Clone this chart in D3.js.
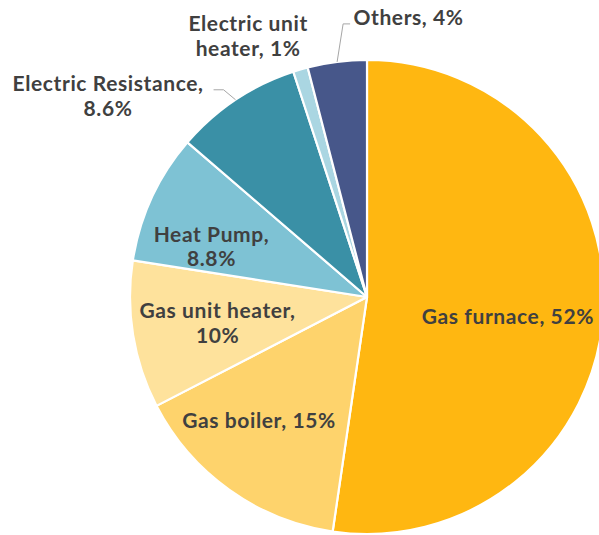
<!DOCTYPE html>
<html>
<head>
<meta charset="utf-8">
<style>
  body { margin: 0; background: #fff; }
  text { font-family: Lato, "Open Sans", sans-serif; font-weight: bold; fill: #404040; }
</style>
</head>
<body>
<svg width="599" height="535"></svg>
<script src="https://d3js.org/d3.v7.min.js"></script>
<script>

	// Data, clockwise from 12 o'clock.
	var categories = ["Gas furnace", "Gas boiler", "Gas unit heater", "Heat Pump",
		"Electric Resistance", "Electric unit heater", "Others"];
	var values = [52, 15, 10, 8.8, 8.6, 1, 4];
	var valueLabels = ["52%", "15%", "10%", "8.8%", "8.6%", "1%", "4%"];
	var colors = ["#FFB711", "#FED36C", "#FEE29C", "#7EC2D4", "#3A90A6", "#AAD6E2", "#47578A"];

	// Label layout: text lines, polar spot (angle offset from slice middle, radius fraction).
	var labelLines = [
		["Gas furnace, 52%"],
		["Gas boiler, 15%"],
		["Gas unit heater,", "10%"],
		["Heat Pump,", "8.8%"],
		["Electric Resistance,", "8.6%"],
		["Electric unit", "heater, 1%"],
		["Others, 4%"]
	];
	var labelAngle = [3.7, 5.7, -0.6, -6.8, -18.5, -8.2, 15.7];
	var labelRadius = [0.6, 0.692, 0.64, 0.69, 1.383, 1.21, 1.192];

	var svg = d3.select("svg"),
		cx = 367,
		cy = 297,
		r = 237;

	var g = svg.append("g").attr("transform", "translate(" + cx + "," + cy + ")");

	var pie = d3.pie().sort(null).value(function(d) { return d; });
	var arcs = pie(values);

	var arc = d3.arc().innerRadius(0).outerRadius(r);

	g.selectAll("path.slice")
		.data(arcs)
		.enter()
		.append("path")
		.attr("class", "slice")
		.attr("d", arc)
		.style("fill", function(d, i) { return colors[i]; })
		.style("stroke", "#fff")
		.style("stroke-width", 2.2)
		.style("stroke-linejoin", "round");

	function polar(angleDeg, rad) {
		var a = angleDeg * Math.PI / 180;
		return [rad * Math.sin(a), -rad * Math.cos(a)];
	}
	function midDeg(d) { return (d.startAngle + d.endAngle) / 2 * 180 / Math.PI; }

	var lineH = 24.5;
	arcs.forEach(function(d, i) {
		var p = polar(midDeg(d) + labelAngle[i], r * labelRadius[i]);
		var lines = labelLines[i];
		var t = g.append("text")
			.attr("text-anchor", "middle")
			.style("font-size", "21px")
			.style("letter-spacing", "0.6px");
		lines.forEach(function(s, k) {
			t.append("tspan")
				.attr("x", p[0])
				.attr("y", p[1] + (k - (lines.length - 1) / 2) * lineH + 7.5)
				.text(s);
		});
	});

	// Leader lines for the two outside labels that have them.
	var leader = d3.line();
	function edge(i) { return polar(midDeg(arcs[i]), r); }

	var er = edge(4);
	g.append("path")
		.attr("d", leader([er, [er[0] - 12, er[1] - 10], [er[0] - 22, er[1] - 10]]))
		.style("fill", "none").style("stroke", "#a6a6a6").style("stroke-width", 1);

	var ot = edge(6);
	g.append("path")
		.attr("d", leader([ot, [ot[0] + 6, ot[1] - 38], [ot[0] + 13, ot[1] - 38]]))
		.style("fill", "none").style("stroke", "#a6a6a6").style("stroke-width", 1);

</script>
</body>
</html>
